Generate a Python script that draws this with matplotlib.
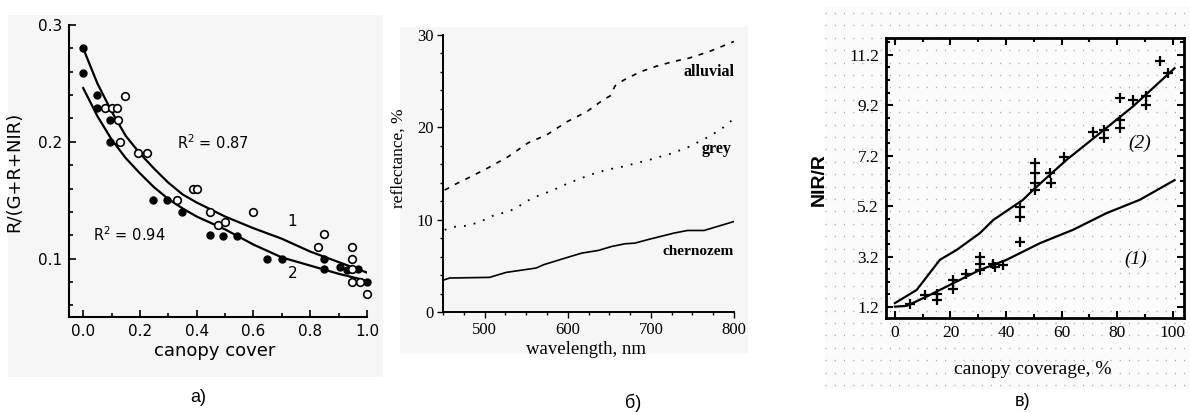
import numpy as np
import matplotlib
matplotlib.use('Agg')
import matplotlib.pyplot as plt
from matplotlib.patches import Rectangle
from matplotlib.ticker import MultipleLocator, FixedLocator

# ---------------- panel a) data ----------------
a_filled_x = [0.0, 0.0, 0.047, 0.047, 0.094, 0.094, 0.247, 0.294, 0.347, 0.447,
              0.494, 0.541, 0.647, 0.70, 0.847, 0.847, 0.906, 0.929, 0.97, 1.0]
a_filled_y = [0.28, 0.259, 0.24, 0.229, 0.219, 0.20, 0.15, 0.15, 0.14, 0.12,
              0.119, 0.119, 0.10, 0.10, 0.10, 0.091, 0.093, 0.09, 0.091, 0.08]
a_open_x = [0.076, 0.10, 0.118, 0.147, 0.124, 0.129, 0.194, 0.224, 0.329, 0.388,
            0.40, 0.447, 0.476, 0.50, 0.60, 0.829, 0.847, 0.947, 0.947, 0.947,
            0.947, 0.976, 1.0]
a_open_y = [0.229, 0.229, 0.229, 0.239, 0.219, 0.20, 0.19, 0.19, 0.15, 0.16,
            0.16, 0.14, 0.129, 0.131, 0.14, 0.11, 0.121, 0.11, 0.10, 0.091,
            0.08, 0.08, 0.07]
a_fit_x = [0.0, 0.05, 0.1, 0.15, 0.2, 0.25, 0.3, 0.35, 0.4, 0.5, 0.6, 0.7, 0.8, 0.9, 1.0]
a_fit1_y = [0.280, 0.250, 0.226, 0.205, 0.190, 0.177, 0.165, 0.155, 0.148, 0.136,
            0.126, 0.117, 0.106, 0.097, 0.088]
a_fit2_y = [0.246, 0.222, 0.202, 0.186, 0.173, 0.161, 0.151, 0.143, 0.136, 0.125,
            0.112, 0.101, 0.094, 0.087, 0.081]
a_xticks = [0.0, 0.2, 0.4, 0.6, 0.8, 1.0]
a_xticklabels = ['0.0', '0.2', '0.4', '0.6', '0.8', '1.0']
a_yticks = [0.1, 0.2, 0.3]
a_yticklabels = ['0.1', '0.2', '0.3']

# ---------------- panel б) data ----------------
b_alluvial_x = [452, 464, 480, 504, 528, 552, 575, 599, 623, 643, 651, 657, 667,
                687, 706, 726, 746, 770, 800]
b_alluvial_y = [13.2, 13.8, 14.5, 15.6, 16.8, 18.3, 19.2, 20.6, 21.7, 23.0, 23.4,
                24.5, 25.1, 26.0, 26.6, 27.1, 27.5, 28.2, 29.3]
b_grey_x = [452, 466, 480, 492, 502, 514, 526, 538, 550, 562, 573, 585, 601, 627,
            647, 667, 699, 726, 746, 770, 786, 798]
b_grey_y = [8.9, 9.27, 9.34, 9.7, 10.06, 10.6, 10.78, 11.25, 11.97, 12.5, 12.87,
            13.3, 13.96, 14.86, 15.4, 15.76, 16.5, 17.2, 17.9, 19.0, 19.9, 20.8]
b_chern_x = [452, 458, 506, 526, 562, 571, 601, 617, 637, 653, 669, 681, 696,
             728, 744, 764, 800]
b_chern_y = [3.5, 3.68, 3.75, 4.29, 4.76, 5.12, 5.95, 6.38, 6.67, 7.1, 7.39, 7.46,
             7.83, 8.55, 8.83, 8.83, 9.8]
b_xticks = [500, 600, 700, 800]
b_yticks = [0, 10, 20, 30]

# ---------------- panel в) data ----------------
c_line2_x = [0, 7.8, 16.2, 22.2, 30.6, 35.4, 46.1, 49.7, 61.7, 73.7, 85.6, 100.6]
c_line2_y = [1.35, 1.87, 3.07, 3.46, 4.13, 4.65, 5.45, 5.84, 7.03, 8.09, 9.15, 10.67]
c_line1_x = [0, 4.2, 11.4, 21.0, 30.6, 40.2, 52.2, 64.1, 76.1, 88.1, 100.6]
c_line1_y = [1.21, 1.24, 1.61, 2.14, 2.67, 3.07, 3.73, 4.26, 4.92, 5.45, 6.23]
c_pts_x = [5.4, 10.8, 15, 15, 21, 21, 25.7, 30.5, 30.5, 30.5, 35.3, 35.9, 39,
           44.9, 44.9, 44.9, 50.3, 50.3, 50.3, 50.3, 55.7, 56.3, 61, 71.3, 75.4,
           75.4, 80.8, 80.8, 80.8, 85.6, 90.4, 90.4, 95.2, 98.2]
c_pts_y = [1.33, 1.66, 1.73, 1.46, 2.26, 1.93, 2.52, 3.19, 2.92, 2.66, 2.92, 2.79,
           2.86, 5.17, 4.78, 3.78, 6.9, 6.5, 6.1, 5.84, 6.5, 6.1, 7.16, 8.15, 8.22,
           7.89, 9.5, 8.6, 8.3, 9.4, 9.55, 9.2, 10.94, 10.5]
c_xticks = [0, 20, 40, 60, 80, 100]
c_yticks = [1.2, 3.2, 5.2, 7.2, 9.2, 11.2]

# ---------------- figure ----------------
W, H = 1190, 412
fig = plt.figure(figsize=(W / 100, H / 100), dpi=100)
fig.patch.set_facecolor('white')


def px_rect(x0, y0, x1, y1):
    return [x0 / W, 1 - y1 / H, (x1 - x0) / W, (y1 - y0) / H]


def bg_rect(x0, y0, x1, y1, color):
    r = Rectangle((x0 / W, 1 - y1 / H), (x1 - x0) / W, (y1 - y0) / H,
                  transform=fig.transFigure, facecolor=color, edgecolor='none', zorder=0)
    fig.add_artist(r)


bg_rect(8, 15, 383, 377, '#f6f6f6')
bg_rect(400, 27, 748, 354, '#f6f6f6')

# dotted background of panel в)
bgc = fig.add_axes(px_rect(825, 7, 1190, 389), zorder=0)
bgc.set_xlim(0, 365)
bgc.set_ylim(0, 382)
bgc.set_facecolor('#fbfbfb')
for sp in bgc.spines.values():
    sp.set_visible(False)
bgc.set_xticks([])
bgc.set_yticks([])
for yy in np.arange(4, 382, 12.4):
    bgc.plot([0, 365], [yy, yy], color='#a8a8a8', lw=1.0,
             linestyle=(0, (0.8, 5.82)), solid_capstyle='butt')

# ---------- panel a ----------
axa = fig.add_axes(px_rect(69, 25, 367, 317), zorder=2)
axa.set_facecolor('none')
axa.set_xlim(-0.05, 1.0)
axa.set_ylim(0.05, 0.3)
for s in ['top', 'right']:
    axa.spines[s].set_visible(False)
for s in ['left', 'bottom']:
    axa.spines[s].set_linewidth(1.5)
axa.set_xticks(a_xticks)
axa.set_xticklabels(a_xticklabels)
axa.set_yticks(a_yticks)
axa.set_yticklabels(a_yticklabels)
axa.xaxis.set_minor_locator(MultipleLocator(0.1))
axa.yaxis.set_minor_locator(MultipleLocator(0.02))
axa.tick_params(which='both', direction='in', width=1.2, labelsize=11, pad=5)
axa.tick_params(which='major', length=5)
axa.tick_params(which='minor', length=3)
axa.plot(a_fit_x, a_fit1_y, color='k', lw=1.6)
axa.plot(a_fit_x, a_fit2_y, color='k', lw=1.6)
axa.plot(a_filled_x, a_filled_y, 'o', ms=5, mfc='k', mec='k', clip_on=False)
axa.plot(a_open_x, a_open_y, 'o', ms=5.5, mfc='white', mec='k', mew=1.2, clip_on=False)
axa.text(0.33, 0.194, 'R$^2$ = 0.87', fontsize=10.5)
axa.text(0.035, 0.115, 'R$^2$ = 0.94', fontsize=10.5)
axa.text(0.72, 0.128, '1', fontsize=11)
axa.text(0.72, 0.083, '2', fontsize=11)
axa.set_ylabel('R/(G+R+NIR)', fontsize=13)
axa.yaxis.set_label_coords(-0.155, 0.497)
axa.set_xlabel('canopy cover', fontsize=13)
axa.xaxis.set_label_coords(0.49, -0.085)
fig.text(198 / W, 1 - 398 / H, 'a)', ha='center', va='center', fontsize=13,
         family='Liberation Sans')

# ---------- panel б ----------
serif = 'Liberation Serif'
axb = fig.add_axes(px_rect(443, 35, 734, 312), zorder=2)
axb.set_facecolor('none')
axb.set_xlim(450, 800)
axb.set_ylim(0, 30)
for s in ['top', 'right']:
    axb.spines[s].set_visible(False)
for s in ['left', 'bottom']:
    axb.spines[s].set_linewidth(1.4)
axb.set_xticks(b_xticks)
axb.set_yticks(b_yticks)
axb.xaxis.set_minor_locator(MultipleLocator(25))
axb.yaxis.set_minor_locator(MultipleLocator(2))
axb.tick_params(which='both', direction='out', width=1.0, labelsize=12, pad=3)
axb.tick_params(which='major', length=4)
axb.tick_params(which='minor', length=2.5)
for lab in axb.get_xticklabels() + axb.get_yticklabels():
    lab.set_family(serif)
axb.plot(b_alluvial_x, b_alluvial_y, color='k', lw=1.2, linestyle=(0, (3, 4)))
axb.plot(b_grey_x, b_grey_y, color='k', lw=1.3, linestyle=(0, (1, 4.5)))
axb.plot(b_chern_x, b_chern_y, color='k', lw=1.2)
axb.text(800, 26.0, 'alluvial', ha='right', va='center', fontsize=11.5,
         family=serif, fontweight='bold')
axb.text(797, 17.6, 'grey', ha='right', va='center', fontsize=11.5,
         family=serif, fontweight='bold')
axb.text(800, 6.6, 'chernozem', ha='right', va='center', fontsize=11,
         family=serif, fontweight='bold')
axb.set_ylabel('reflectance, %', fontsize=12.5, family=serif)
axb.yaxis.set_label_coords(-0.125, 0.556)
axb.set_xlabel('wavelength, nm', fontsize=13.5, family=serif)
axb.xaxis.set_label_coords(0.49, -0.105)
fig.text(633 / W, 1 - 403 / H, 'б)', ha='center', va='center', fontsize=13,
         family='Liberation Sans')

# ---------- panel в ----------
axc = fig.add_axes(px_rect(886, 38, 1184, 318), zorder=2)
axc.set_facecolor('none')
axc.set_xlim(-3.2, 104)
axc.set_ylim(0.76, 11.87)
for s in axc.spines.values():
    s.set_linewidth(2.0)
axc.set_xticks(c_xticks)
axc.set_yticks(c_yticks)
axc.set_yticklabels([f'{v:.1f}' for v in c_yticks])
axc.xaxis.set_minor_locator(MultipleLocator(10))
axc.yaxis.set_minor_locator(FixedLocator(np.arange(0.7, 11.9, 0.5)))
axc.tick_params(which='both', direction='in', top=True, right=True, width=1.5,
                labelsize=12.5, pad=5)
axc.tick_params(which='major', length=5)
axc.tick_params(which='minor', length=3)
for lab in axc.get_xticklabels() + axc.get_yticklabels():
    lab.set_family(serif)
axc.plot(c_line2_x, c_line2_y, color='k', lw=1.6, clip_on=False)
axc.plot(c_line1_x, c_line1_y, color='k', lw=1.6, clip_on=False)
axc.plot(c_pts_x, c_pts_y, '+', ms=6.5, mec='k', mew=1.6)
axc.text(88, 7.7, '(2)', ha='center', va='center', fontsize=14, family=serif,
         style='italic')
axc.text(86.8, 3.1, '(1)', ha='center', va='center', fontsize=14, family=serif,
         style='italic')
axc.set_ylabel('NIR/R', fontsize=14, fontweight='bold', family='Liberation Sans')
axc.yaxis.set_label_coords(-0.195, 0.493)
axc.set_xlabel('canopy coverage, %', fontsize=14, family=serif)
axc.xaxis.set_label_coords(0.493, -0.155)
fig.text(1023 / W, 1 - 402 / H, 'в)', ha='center', va='center', fontsize=13,
         family='Liberation Sans')

fig.savefig('out.png', dpi=100)
